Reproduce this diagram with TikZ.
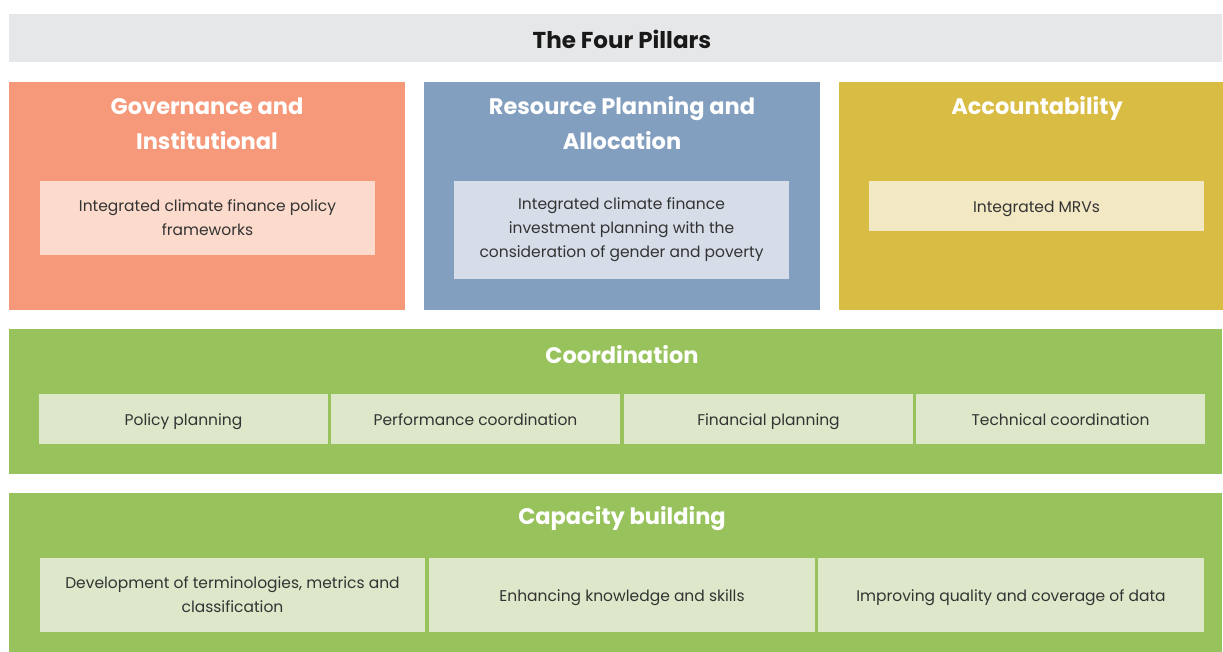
\documentclass[tikz,border=0pt]{standalone}
\usepackage{fontspec}
\setmainfont{Poppins}
\definecolor{titlegray}{HTML}{E6E7E9}
\definecolor{govsalmon}{HTML}{F5997A}
\definecolor{govlight}{HTML}{FCDBCC}
\definecolor{resblue}{HTML}{839FC0}
\definecolor{reslight}{HTML}{D6DDE8}
\definecolor{accyellow}{HTML}{D9BC43}
\definecolor{acclight}{HTML}{F2E8C4}
\definecolor{pillargreen}{HTML}{98C35C}
\definecolor{greenlight}{HTML}{DCE8C9}
\definecolor{textdark}{HTML}{333333}

\tikzset{
  pillar/.style={rectangle, inner sep=0pt, minimum width=396pt, minimum height=228pt},
  heading/.style={text=white, font=\fontsize{22.5}{35}\selectfont\bfseries, align=center},
  item/.style={rectangle, inner sep=0pt, text=textdark, align=center,
    font=\fontsize{15.5}{24}\selectfont, minimum height=50pt},
  oneline/.style={text height=13pt, text depth=0pt}
}

\begin{document}
\begin{tikzpicture}[x=1pt, y=-1pt]
\useasboundingbox (0,0) rectangle (1223,652);
% Title bar
\node[rectangle, fill=titlegray, minimum width=1213pt, minimum height=48pt, inner sep=0pt] (title) at (615.5,38) {};
\node[font=\fontsize{23}{25}\selectfont\bfseries, text=black!90] (titletext) at (622,39) {The Four Pillars};

% Three pillars
\node[pillar, fill=govsalmon] (gov) at (207,196) {};
\node[pillar, fill=resblue] (res) at (622,196) {};
\node[pillar, fill=accyellow, minimum width=384pt] (acc) at (1031,196) {};

\node[heading] (govhead) at (207,123.5) {Governance and\\Institutional};
\node[heading] (reshead) at (622,123.5) {Resource Planning and\\Allocation};
\node[heading] (acchead) at (1037,108.5) {Accountability};

\node[item, fill=govlight, minimum width=335pt, minimum height=74pt] (govitem) at (207.5,218)
  {Integrated climate finance policy\\frameworks};
\node[item, fill=reslight, minimum width=335pt, minimum height=98pt] (resitem) at (621.5,230)
  {Integrated climate finance\\investment planning with the\\consideration of gender and poverty};
\node[item, oneline, fill=acclight, minimum width=335pt] (accitem) at (1036.5,206) {Integrated MRVs};

% Coordination
\node[rectangle, fill=pillargreen, minimum width=1213pt, minimum height=145pt, inner sep=0pt] (coord) at (615.5,401.5) {};
\node[heading] (coordhead) at (622,355) {Coordination};
\node[item, oneline, fill=greenlight, minimum width=289pt] (policy) at (183.5,419) {Policy planning};
\node[item, oneline, fill=greenlight, minimum width=289pt] (perf) at (475.5,419) {Performance coordination};
\node[item, oneline, fill=greenlight, minimum width=289pt] (fin) at (768.5,419) {Financial planning};
\node[item, oneline, fill=greenlight, minimum width=289pt] (tech) at (1060.5,419) {Technical coordination};

% Capacity building
\node[rectangle, fill=pillargreen, minimum width=1213pt, minimum height=159pt, inner sep=0pt] (cap) at (615.5,572.5) {};
\node[heading] (caphead) at (622,519) {Capacity building};
\node[item, fill=greenlight, minimum width=385pt, minimum height=74pt] (dev) at (232.5,595)
  {Development of terminologies, metrics and\\classification};
\node[item, oneline, fill=greenlight, minimum width=386pt, minimum height=74pt] (enh) at (622,595)
  {Enhancing knowledge and skills};
\node[item, oneline, fill=greenlight, minimum width=386pt, minimum height=74pt] (imp) at (1011,595)
  {Improving quality and coverage of data};
\end{tikzpicture}
\end{document}
